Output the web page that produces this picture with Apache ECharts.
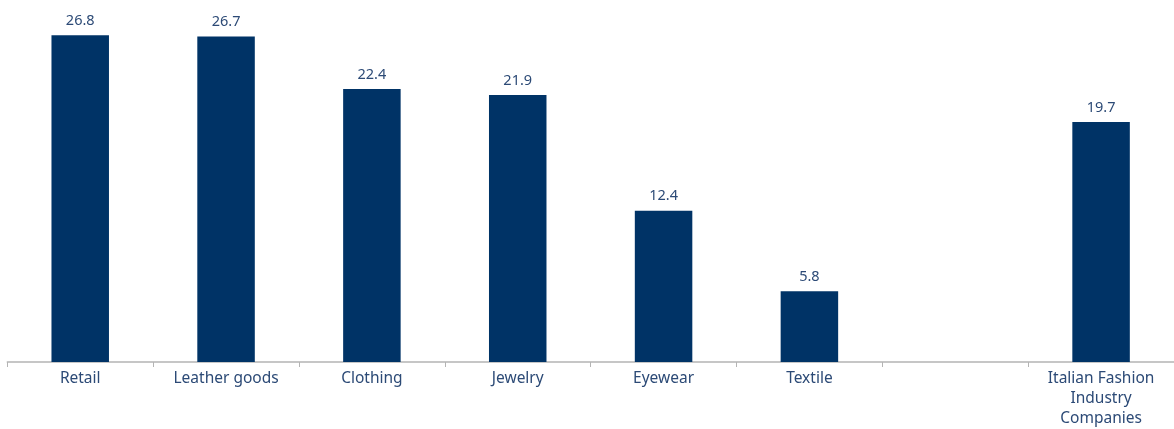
<!DOCTYPE html>
<html><head><meta charset="utf-8">
<script src="https://cdn.jsdelivr.net/npm/echarts@6/dist/echarts.min.js"></script>
<style>html,body{margin:0;padding:0;background:#fff}#c{width:1174px;height:429px}</style>
</head><body><div id="c"></div>
<script>
const categories = ['Retail', 'Leather goods', 'Clothing', 'Jewelry', 'Eyewear', 'Textile', '', 'Italian Fashion\nIndustry\nCompanies'];
const values = [26.8, 26.7, 22.4, 21.9, 12.4, 5.8, null, 19.7];

const chart = echarts.init(document.getElementById('c'));
chart.setOption({
  animation: false,
  grid: { left: 7.3, right: -4.5, top: 0, bottom: 64, containLabel: false },
  xAxis: {
    type: 'category', data: categories,
    axisLine: { lineStyle: { color: '#b4b4b4', width: 1.5 } },
    axisTick: { show: true, length: 5, lineStyle: { color: '#b4b4b4' } },
    axisLabel: { color: '#2c4a76', fontFamily: 'Noto Sans', fontSize: 15.5, margin: 7, lineHeight: 20, interval: 0 }
  },
  yAxis: { type: 'value', min: 0, max: 29.7, show: false, splitLine: { show: false } },
  series: [{
    type: 'bar', data: values, barWidth: 57.5,
    itemStyle: { color: '#003366' },
    label: { show: true, position: 'top', distance: 7, color: '#2c4a76', fontFamily: 'Noto Sans', fontSize: 14.5,
      formatter: p => p.value == null ? '' : p.value.toFixed(1) }
  }]
});
</script></body></html>
